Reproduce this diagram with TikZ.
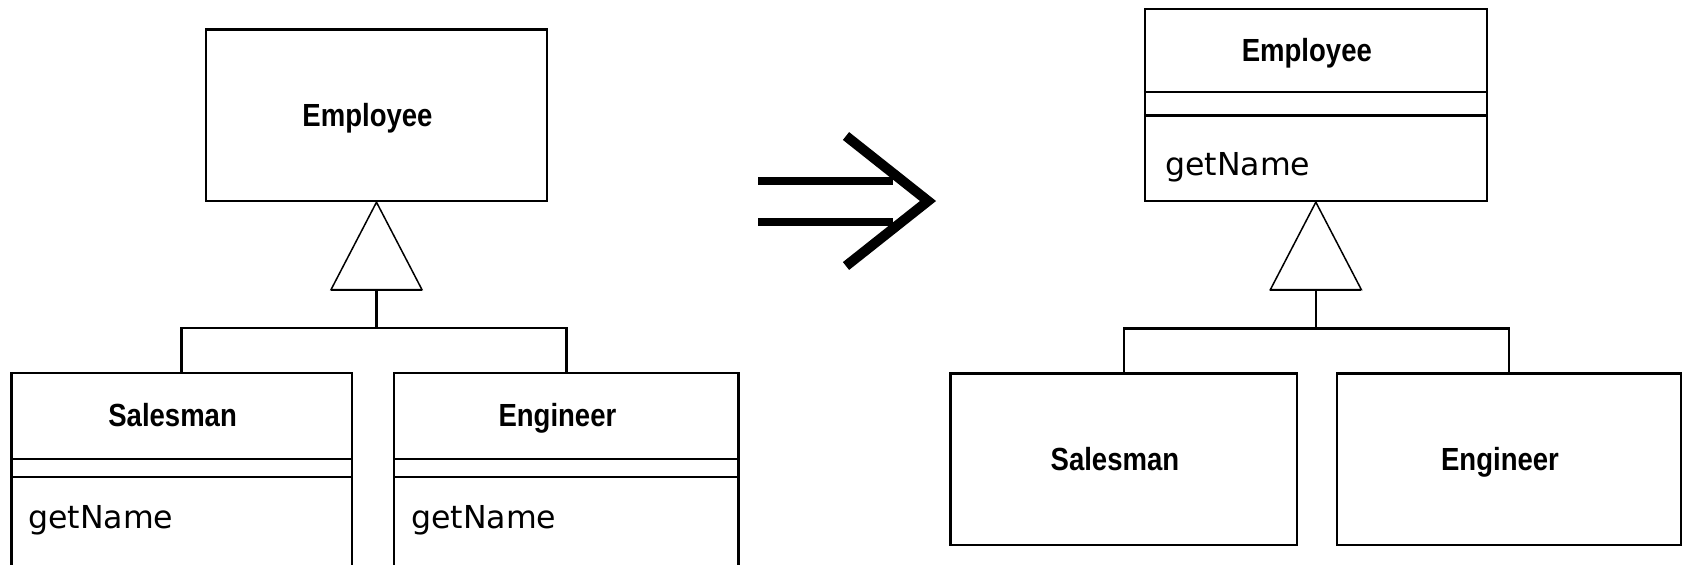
\documentclass[tikz,border=0pt]{standalone}
\usepackage{fontspec}
\usepackage{graphicx}
\newfontfamily\clsfont{Liberation Sans}
\newfontfamily\opfont{DejaVu Sans}
\usetikzlibrary{calc}
\begin{document}
\begin{tikzpicture}[x=0.5pt,y=-0.5pt,
  box/.style={draw, line width=1.15pt, rectangle, inner sep=0pt, fill=white},
  clsname/.style={font=\clsfont\bfseries\fontsize{16}{16}\selectfont, inner sep=0pt, anchor=base},
  op/.style={font=\opfont\fontsize{15.8}{16}\selectfont, inner sep=0pt, anchor=base west},
  link/.style={line width=1.15pt},
  gen/.style={line width=0.75pt, line join=miter},
  bigarrow/.style={line width=5pt}
  ]
\useasboundingbox (0,0) rectangle (1688,564);
\fill[white] (0,0) rectangle (1688,564);

% ---------- left diagram ----------
\node[box, minimum width=170.8pt, minimum height=85.85pt] (lemp) at (376.5,115.2) {};
\node[box, minimum width=170.1pt, minimum height=113.35pt] (lsales) at (181.6,486.65) {};
\node[box, minimum width=172.1pt, minimum height=113.35pt] (leng) at (566.4,486.65) {};

\node[clsname] (lempN) at ($(lemp.center)+(-9,11.5)$) {\scalebox{0.86}[1]{Employee}};
\node[clsname] (lsalesN) at ($(lsales.north)+(-9,54.8)$) {\scalebox{0.86}[1]{Salesman}};
\node[clsname] (lengN) at ($(leng.north)+(-9,54.8)$) {\scalebox{0.86}[1]{Engineer}};

\draw[link] ($(lsales.north west)+(0,86.7)$) -- ($(lsales.north east)+(0,86.7)$);
\draw[link] ($(lsales.north west)+(0,105)$) -- ($(lsales.north east)+(0,105)$);
\draw[link] ($(leng.north west)+(0,86.7)$) -- ($(leng.north east)+(0,86.7)$);
\draw[link] ($(leng.north west)+(0,105)$) -- ($(leng.north east)+(0,105)$);

\node[op] (lsalesOp) at ($(lsales.north west)+(17.5,156)$) {getName};
\node[op] (lengOp) at ($(leng.north west)+(17.7,156)$) {getName};

\draw[gen] (lemp.south) -- ++(-45.5,87.5) coordinate (ltl) -- ++(91,0) coordinate (ltr) -- cycle;
\draw[link] (ltl) -- (ltr);
\coordinate (ltb) at ($(lemp.south)+(0,87.5)$);
\coordinate (ljoin) at ($(lsales.north)+(0,-44)$);
\draw[link] (ltb) -- (ltb |- ljoin);
\draw[link] (lsales.north) -- (ljoin) -| (leng.north);

% ---------- transformation arrow ----------
\draw[line width=4pt] (758,181) -- (893,181);
\draw[line width=4pt] (758,221.7) -- (893,221.7);
\draw[bigarrow, line join=miter] (846,136) -- (928,201) -- (846,266);

% ---------- right diagram ----------
\node[box, minimum width=170.85pt, minimum height=95.85pt] (remp) at (1315.85,105.15) {};
\node[box, minimum width=173.3pt, minimum height=85.75pt] (rsales) at (1123.9,459.25) {};
\node[box, minimum width=172pt, minimum height=85.75pt] (reng) at (1509,459.25) {};

\node[clsname] (rempN) at ($(remp.north)+(-9,53.5)$) {\scalebox{0.86}[1]{Employee}};
\node[clsname] (rsalesN) at ($(rsales.center)+(-9,11.5)$) {\scalebox{0.86}[1]{Salesman}};
\node[clsname] (rengN) at ($(reng.center)+(-9,11.5)$) {\scalebox{0.86}[1]{Engineer}};

\draw[link] ($(remp.north west)+(0,84)$) -- ($(remp.north east)+(0,84)$);
\draw[link] ($(remp.north west)+(0,107.4)$) -- ($(remp.north east)+(0,107.4)$);
\node[op] (rempOp) at ($(remp.north west)+(21,167)$) {getName};

\draw[gen] (remp.south) -- ++(-45.5,87.5) coordinate (rtl) -- ++(91,0) coordinate (rtr) -- cycle;
\draw[link] (rtl) -- (rtr);
\coordinate (rtb) at ($(remp.south)+(0,87.5)$);
\coordinate (rjoin) at ($(rsales.north)+(0,-44)$);
\draw[link] (rtb) -- (rtb |- rjoin);
\draw[link] (rsales.north) -- (rjoin) -| (reng.north);
\end{tikzpicture}
\end{document}
